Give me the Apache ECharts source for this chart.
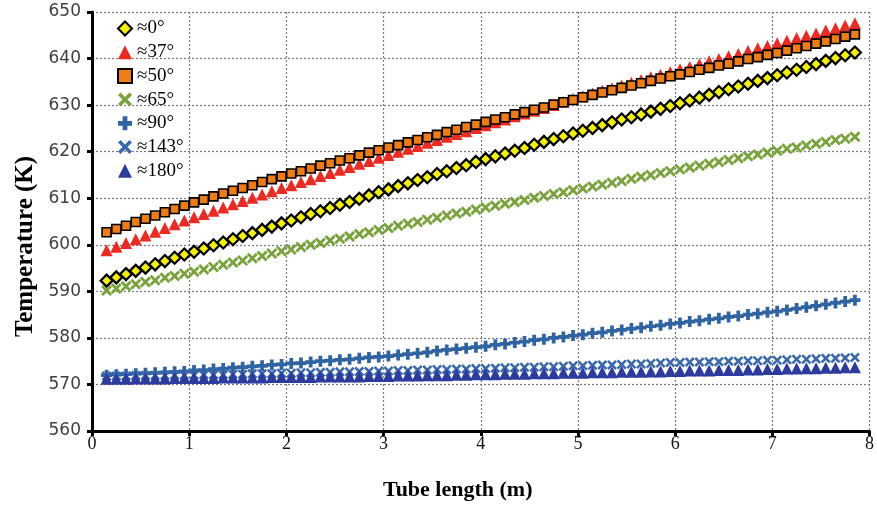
<!DOCTYPE html>
<html>
<head>
<meta charset="utf-8">
<script src="https://cdn.jsdelivr.net/npm/echarts@6/dist/echarts.min.js"></script>
<style>
  html, body { margin: 0; padding: 0; background: #fff; }
  #chart { width: 877px; height: 507px; }
</style>
</head>
<body>
<div id="chart"></div>
<script>
// tube length positions (m)
var tubeLength = [0.15,0.25,0.35,0.45,0.55,0.65,0.75,0.85,0.95,
  1.05,1.15,1.25,1.35,1.45,1.55,1.65,1.75,1.85,1.95,
  2.05,2.15,2.25,2.35,2.45,2.55,2.65,2.75,2.85,2.95,
  3.05,3.15,3.25,3.35,3.45,3.55,3.65,3.75,3.85,3.95,
  4.05,4.15,4.25,4.35,4.45,4.55,4.65,4.75,4.85,4.95,
  5.05,5.15,5.25,5.35,5.45,5.55,5.65,5.75,5.85,5.95,
  6.05,6.15,6.25,6.35,6.45,6.55,6.65,6.75,6.85,6.95,
  7.05,7.15,7.25,7.35,7.45,7.55,7.65,7.75,7.85];

// temperatures (K)
var t0 = [592.3,593.0,593.7,594.4,595.1,595.8,596.5,597.2,597.9,
  598.5,599.2,599.9,600.5,601.2,601.9,602.5,603.2,603.9,604.6,
  605.2,605.9,606.6,607.2,607.9,608.6,609.2,609.9,610.6,611.3,
  611.9,612.6,613.2,613.9,614.5,615.2,615.8,616.5,617.1,617.8,
  618.4,619.0,619.6,620.2,620.8,621.5,622.1,622.7,623.3,623.9,
  624.5,625.1,625.7,626.3,626.9,627.4,628.0,628.6,629.2,629.8,
  630.4,631.0,631.6,632.2,632.8,633.4,634.0,634.6,635.2,635.8,
  636.4,637.0,637.6,638.2,638.8,639.5,640.1,640.7,641.3];
var t37 = [598.8,599.6,600.4,601.2,602.0,602.8,603.6,604.4,605.2,
  605.9,606.6,607.3,608.0,608.7,609.4,610.1,610.8,611.5,612.2,
  612.8,613.5,614.1,614.8,615.4,616.1,616.7,617.4,618.0,618.7,
  619.3,620.0,620.6,621.2,621.9,622.5,623.2,623.8,624.4,625.1,
  625.7,626.3,626.9,627.6,628.2,628.8,629.4,630.0,630.7,631.3,
  631.9,632.5,633.1,633.6,634.2,634.8,635.4,636.0,636.5,637.1,
  637.7,638.2,638.8,639.4,639.9,640.5,641.0,641.6,642.2,642.7,
  643.3,643.8,644.4,644.9,645.4,646.0,646.5,647.1,647.6];
var t50 = [602.7,603.4,604.1,604.9,605.6,606.3,607.0,607.7,608.4,
  609.1,609.7,610.4,611.0,611.6,612.2,612.8,613.5,614.1,614.7,
  615.3,615.8,616.4,617.0,617.5,618.1,618.6,619.2,619.8,620.3,
  620.9,621.4,622.0,622.5,623.1,623.6,624.2,624.7,625.3,625.8,
  626.4,626.9,627.4,628.0,628.5,629.0,629.5,630.1,630.6,631.1,
  631.7,632.2,632.7,633.2,633.7,634.2,634.7,635.2,635.7,636.2,
  636.6,637.1,637.6,638.0,638.5,638.9,639.4,639.9,640.3,640.8,
  641.2,641.7,642.2,642.7,643.2,643.7,644.2,644.7,645.2];
var t65 = [590.2,590.6,591.1,591.5,592.0,592.4,592.9,593.3,593.8,
  594.2,594.7,595.2,595.7,596.2,596.6,597.1,597.6,598.1,598.6,
  599.0,599.5,600.0,600.4,600.9,601.3,601.8,602.3,602.7,603.2,
  603.6,604.1,604.5,604.9,605.4,605.8,606.3,606.7,607.1,607.6,
  608.0,608.4,608.8,609.2,609.6,610.1,610.5,610.9,611.3,611.7,
  612.1,612.5,612.9,613.3,613.7,614.2,614.6,615.0,615.4,615.8,
  616.2,616.6,617.0,617.4,617.8,618.2,618.6,619.0,619.4,619.8,
  620.2,620.6,620.9,621.3,621.7,622.1,622.5,622.8,623.2];
var t90 = [572.0,572.1,572.2,572.3,572.4,572.5,572.6,572.7,572.8,
  573.0,573.1,573.3,573.4,573.6,573.7,573.9,574.0,574.2,574.3,
  574.5,574.6,574.8,575.0,575.1,575.3,575.4,575.6,575.8,575.9,
  576.1,576.3,576.5,576.7,576.9,577.2,577.4,577.6,577.8,578.0,
  578.2,578.5,578.7,579.0,579.2,579.5,579.7,580.0,580.2,580.5,
  580.7,581.0,581.2,581.5,581.7,582.0,582.2,582.5,582.7,583.0,
  583.2,583.5,583.7,584.0,584.2,584.5,584.7,585.0,585.2,585.5,
  585.7,586.0,586.3,586.6,586.9,587.2,587.5,587.8,588.1];
var t143 = [571.8,571.8,571.8,571.9,571.9,571.9,571.9,572.0,572.0,
  572.0,572.1,572.1,572.1,572.2,572.2,572.3,572.3,572.3,572.4,
  572.4,572.5,572.5,572.6,572.6,572.7,572.7,572.8,572.8,572.9,
  572.9,573.0,573.0,573.1,573.1,573.2,573.2,573.3,573.3,573.4,
  573.4,573.5,573.6,573.6,573.7,573.7,573.8,573.8,573.9,574.0,
  574.0,574.1,574.2,574.2,574.3,574.4,574.4,574.5,574.6,574.7,
  574.7,574.8,574.8,574.9,574.9,575.0,575.0,575.1,575.1,575.2,
  575.2,575.3,575.4,575.4,575.5,575.6,575.6,575.7,575.8];
var t180 = [571.2,571.2,571.2,571.3,571.3,571.3,571.3,571.4,571.4,
  571.4,571.4,571.4,571.5,571.5,571.5,571.5,571.5,571.6,571.6,
  571.6,571.6,571.6,571.7,571.7,571.7,571.7,571.7,571.8,571.8,
  571.8,571.9,571.9,571.9,572.0,572.0,572.0,572.1,572.1,572.2,
  572.2,572.2,572.3,572.3,572.3,572.4,572.4,572.4,572.5,572.5,
  572.5,572.6,572.6,572.6,572.7,572.7,572.7,572.8,572.8,572.9,
  572.9,573.0,573.0,573.0,573.1,573.1,573.1,573.2,573.2,573.3,
  573.3,573.4,573.4,573.5,573.5,573.6,573.6,573.7,573.7];

var xTicks = [0, 8, 1];      // min, max, interval
var yTicks = [560, 650, 10];

var crossPath = 'path://M0,1.8L1.8,0L5,3.2L8.2,0L10,1.8L6.8,5L10,8.2L8.2,10L5,6.8L1.8,10L0,8.2L3.2,5Z';
var plusPath = 'path://M3.3,0H6.7V3.3H10V6.7H6.7V10H3.3V6.7H0V3.3H3.3Z';

function pairs(vals){
    return tubeLength.map(function(x, i){ return [x, vals[i]]; });
}

var seriesDefs = [
    {name:'≈0°',   data:t0,   symbol:'diamond',  size:12, style:{color:'#f2f200', borderColor:'#000', borderWidth:2.2}},
    {name:'≈37°',  data:t37,  symbol:'triangle', size:12, style:{color:'#ec2a22'}},
    {name:'≈50°',  data:t50,  symbol:'rect',     size:9,  style:{color:'#f07d12', borderColor:'#000', borderWidth:1.6}},
    {name:'≈65°',  data:t65,  symbol:crossPath,  size:11, style:{color:'#77a33a'}},
    {name:'≈90°',  data:t90,  symbol:plusPath,   size:11, style:{color:'#2f63a2'}},
    {name:'≈143°', data:t143, symbol:crossPath,  size:10, style:{color:'#3a68ac'}},
    {name:'≈180°', data:t180, symbol:'triangle', size:12, style:{color:'#2d3a9e'}}
];

var myChart = echarts.init(document.getElementById('chart'));
var option = {
    animation: false,
    backgroundColor: '#fff',
    grid: { left: 92, right: 4, top: 12, bottom: 76 },
    legend: {
        orient: 'vertical',
        left: 112,
        top: 14,
        itemWidth: 14,
        itemHeight: 14,
        itemGap: 4.7,
        textStyle: { fontFamily: 'Liberation Serif', fontSize: 19, color: '#000', lineHeight: 18 },
        data: seriesDefs.map(function(s){ return s.name; })
    },
    xAxis: {
        type: 'value',
        min: xTicks[0], max: xTicks[1], interval: xTicks[2],
        name: 'Tube length (m)',
        nameLocation: 'middle',
        nameGap: 48,
        nameTextStyle: { fontFamily: 'Liberation Serif', fontSize: 22, fontWeight: 'bold', color: '#000', padding: [0, 46, 0, 0] },
        axisLine: { show: true, onZero: false, lineStyle: { color: '#000', width: 3 } },
        axisTick: { show: true, length: 5, lineStyle: { color: '#000', width: 3 } },
        axisLabel: { fontFamily: 'Liberation Serif', fontSize: 18, color: '#111', margin: 4 },
        splitLine: { show: true, lineStyle: { color: '#7a7a7a', width: 1.2, type: [2, 2] } }
    },
    yAxis: {
        type: 'value',
        min: yTicks[0], max: yTicks[1], interval: yTicks[2],
        name: 'Temperature (K)',
        nameLocation: 'middle',
        nameGap: 54,
        nameTextStyle: { fontFamily: 'Liberation Serif', fontSize: 25, fontWeight: 'bold', color: '#000', padding: [0, 50, 0, 0] },
        axisLine: { show: true, lineStyle: { color: '#000', width: 3 } },
        axisTick: { show: true, length: 5, lineStyle: { color: '#000', width: 3 } },
        axisLabel: { fontFamily: 'DejaVu Sans', fontSize: 17, color: '#404040', margin: 11 },
        splitLine: { show: true, lineStyle: { color: '#7a7a7a', width: 1.2, type: [2, 2] } }
    },
    series: seriesDefs.map(function(s){
        var st = Object.assign({ opacity: 1 }, s.style);
        return {
            name: s.name,
            type: 'scatter',
            symbol: s.symbol,
            symbolSize: s.size,
            itemStyle: st,
            data: pairs(s.data)
        };
    })
};
myChart.setOption(option);
</script>
</body>
</html>
